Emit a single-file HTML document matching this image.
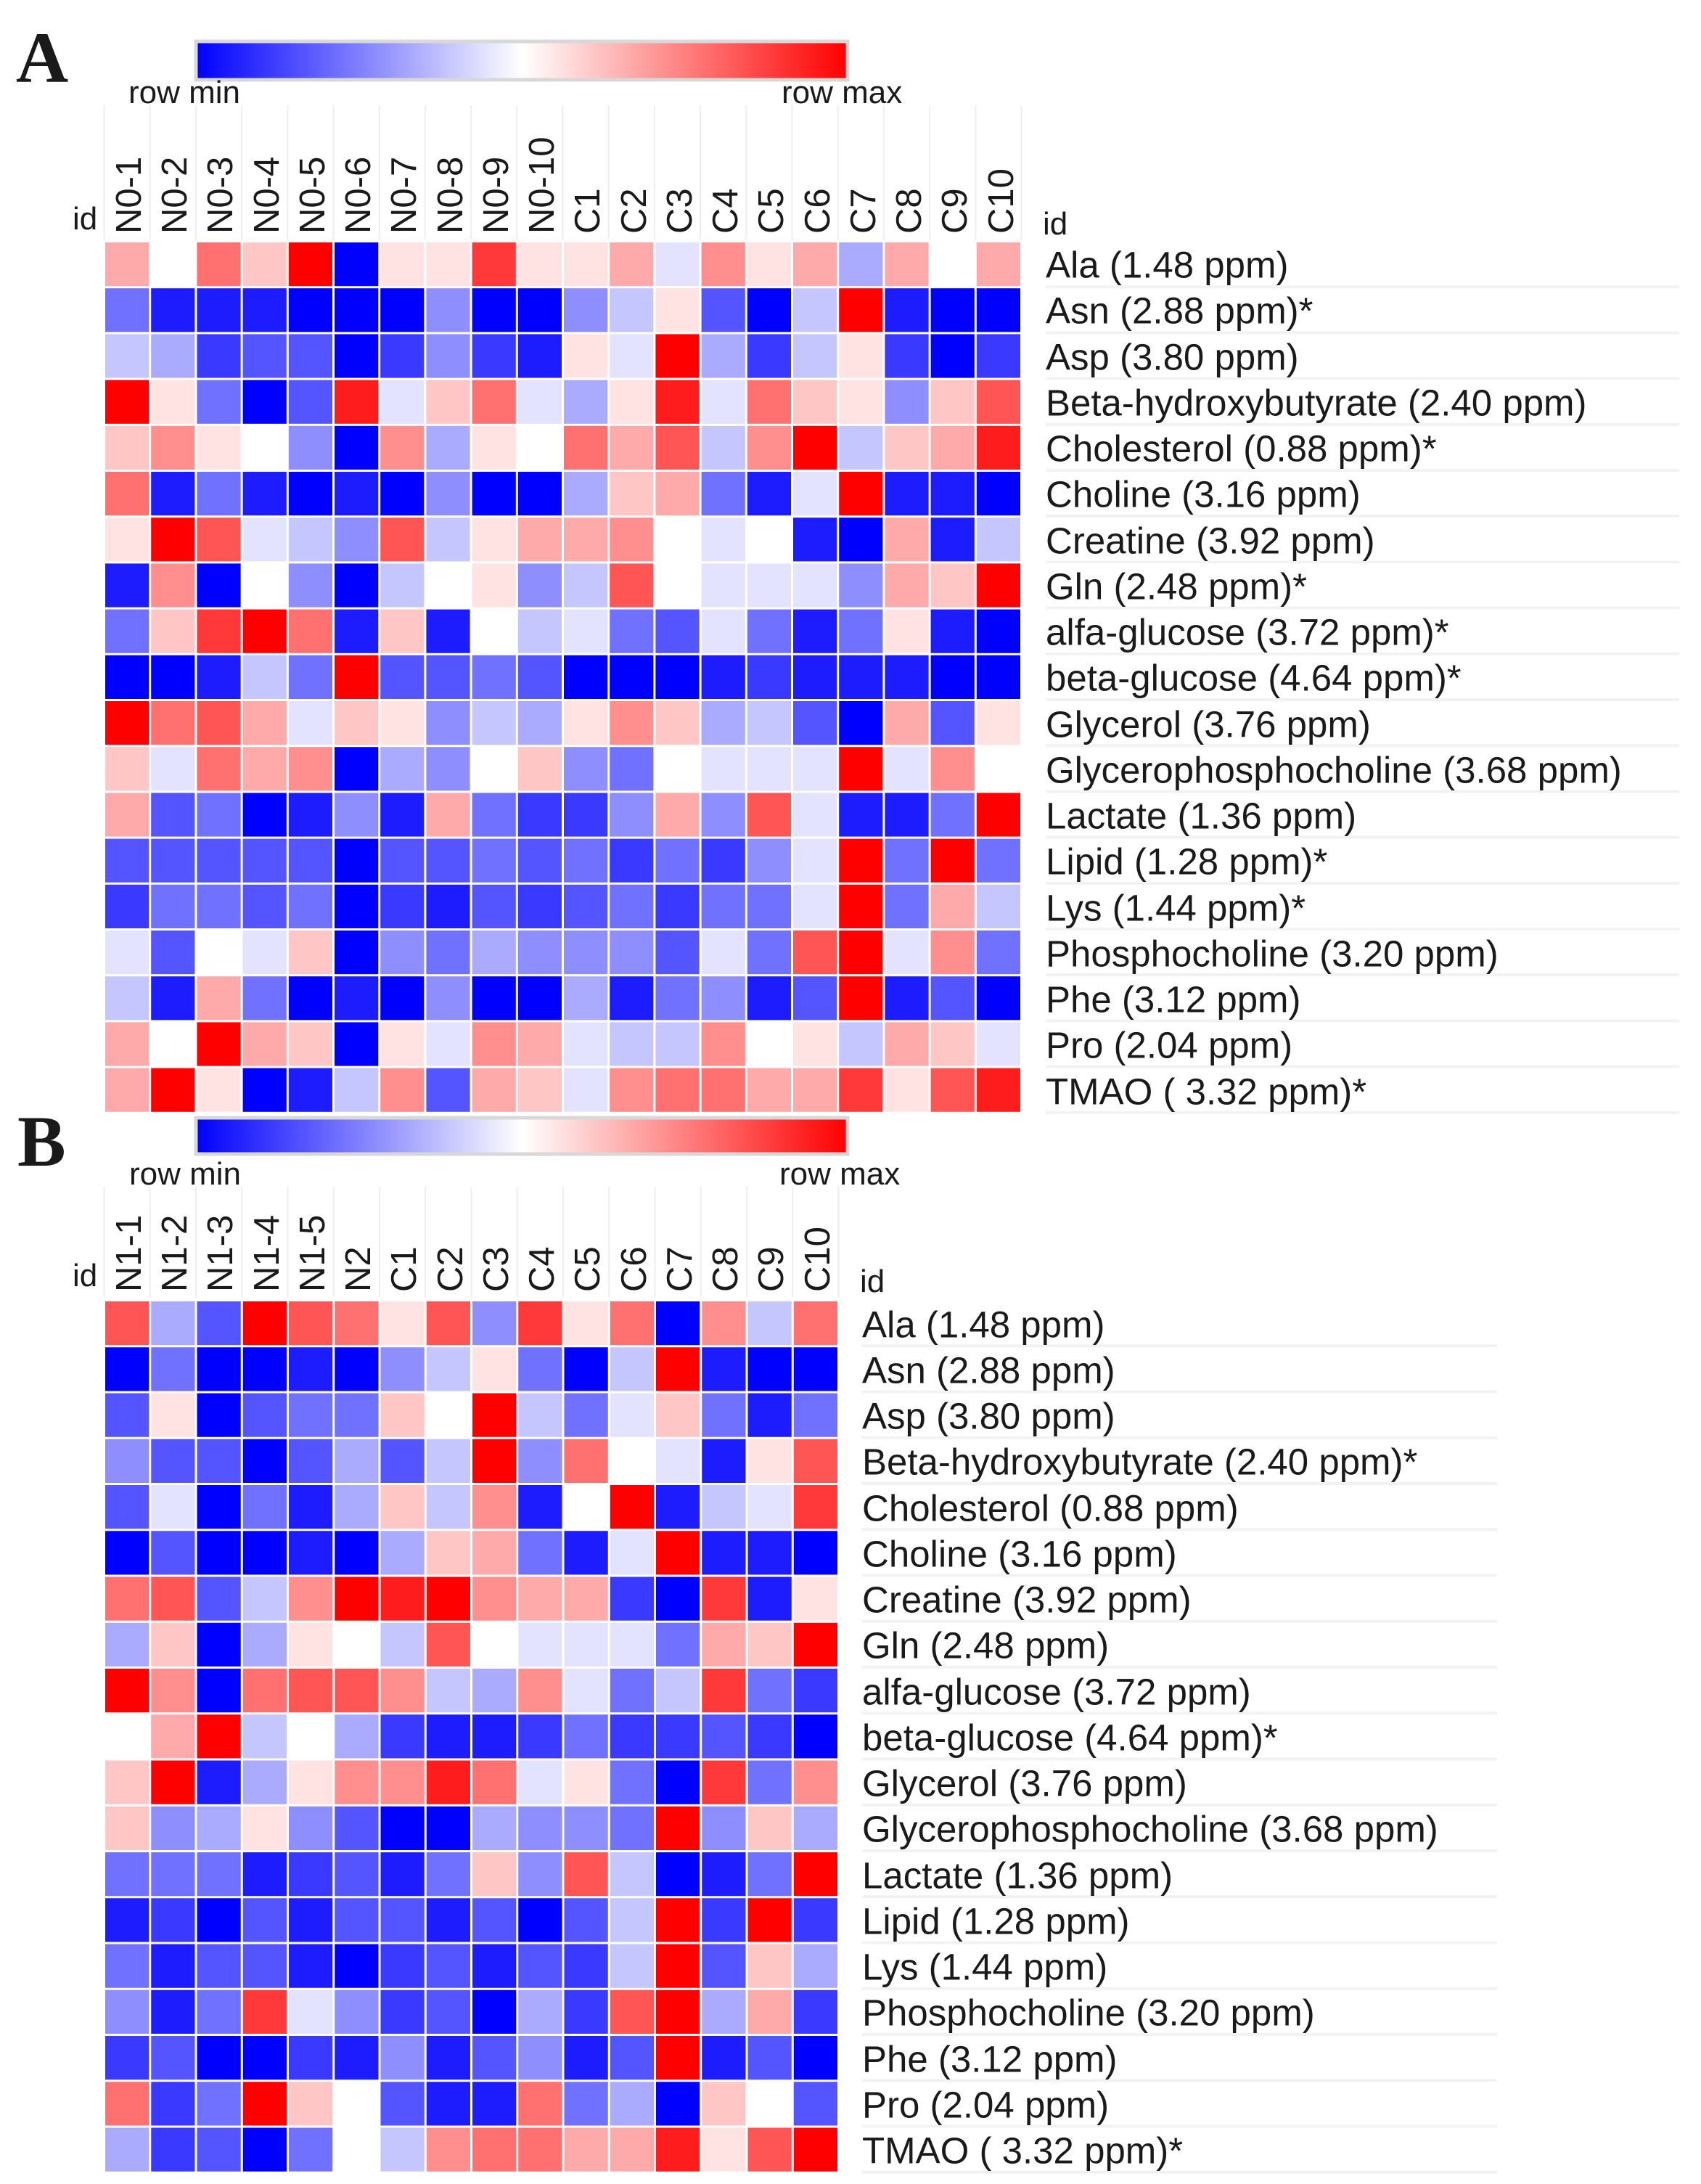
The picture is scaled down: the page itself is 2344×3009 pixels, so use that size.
<!DOCTYPE html>
<html><head><meta charset="utf-8">
<style>
html,body{margin:0;padding:0;background:#fff;}
svg{display:block;}
text{font-family:"Liberation Sans",sans-serif;fill:#1a1a1a;}
</style></head>
<body>
<svg id="s" width="2344" height="3009" viewBox="0 0 2344 3009" xmlns="http://www.w3.org/2000/svg">
<defs>
<linearGradient id="g" x1="0" x2="1" y1="0" y2="0">
<stop offset="0" stop-color="#0000ff"/><stop offset="0.5" stop-color="#ffffff"/><stop offset="1" stop-color="#ff0000"/>
</linearGradient>
</defs>
<rect width="2344" height="3009" fill="#fff"/>
<!-- Panel A header -->
<text x="22" y="113" style="font-family:'Liberation Serif',serif;font-weight:bold;font-size:100px">A</text>
<rect x="270" y="57" width="898" height="53" fill="url(#g)" stroke="#d8d8d8" stroke-width="5"/>
<text x="177" y="142" font-size="44">row min</text>
<text x="1077" y="142" font-size="44">row max</text>
<g id="vlA" stroke="#eeeeee" stroke-width="2"></g>
<text x="100" y="316" font-size="44">id</text>
<text x="1437" y="323" font-size="44">id</text>
<g font-size="49">
<text transform="translate(194,322) rotate(-90)">N0-1</text>
<text transform="translate(257,322) rotate(-90)">N0-2</text>
<text transform="translate(320,322) rotate(-90)">N0-3</text>
<text transform="translate(384,322) rotate(-90)">N0-4</text>
<text transform="translate(447,322) rotate(-90)">N0-5</text>
<text transform="translate(510,322) rotate(-90)">N0-6</text>
<text transform="translate(573,322) rotate(-90)">N0-7</text>
<text transform="translate(637,322) rotate(-90)">N0-8</text>
<text transform="translate(700,322) rotate(-90)">N0-9</text>
<text transform="translate(763,322) rotate(-90)">N0-10</text>
<text transform="translate(826,322) rotate(-90)">C1</text>
<text transform="translate(890,322) rotate(-90)">C2</text>
<text transform="translate(953,322) rotate(-90)">C3</text>
<text transform="translate(1016,322) rotate(-90)">C4</text>
<text transform="translate(1079,322) rotate(-90)">C5</text>
<text transform="translate(1143,322) rotate(-90)">C6</text>
<text transform="translate(1206,322) rotate(-90)">C7</text>
<text transform="translate(1269,322) rotate(-90)">C8</text>
<text transform="translate(1332,322) rotate(-90)">C9</text>
<text transform="translate(1396,322) rotate(-90)">C10</text>
</g>
<g id="gridA"></g>
<g id="sepA" fill="#f2f2f2"></g>
<g font-size="51" dominant-baseline="central">
<text x="1441" y="365">Ala (1.48 ppm)</text>
<text x="1441" y="428">Asn (2.88 ppm)*</text>
<text x="1441" y="492">Asp (3.80 ppm)</text>
<text x="1441" y="555">Beta-hydroxybutyrate (2.40 ppm)</text>
<text x="1441" y="618">Cholesterol (0.88 ppm)*</text>
<text x="1441" y="681">Choline (3.16 ppm)</text>
<text x="1441" y="745">Creatine (3.92 ppm)</text>
<text x="1441" y="808">Gln  (2.48 ppm)*</text>
<text x="1441" y="871">alfa-glucose (3.72 ppm)*</text>
<text x="1441" y="934">beta-glucose (4.64 ppm)*</text>
<text x="1441" y="998">Glycerol (3.76 ppm)</text>
<text x="1441" y="1061">Glycerophosphocholine (3.68 ppm)</text>
<text x="1441" y="1124">Lactate  (1.36 ppm)</text>
<text x="1441" y="1187">Lipid  (1.28 ppm)*</text>
<text x="1441" y="1251">Lys  (1.44 ppm)*</text>
<text x="1441" y="1314">Phosphocholine (3.20 ppm)</text>
<text x="1441" y="1377">Phe (3.12 ppm)</text>
<text x="1441" y="1440">Pro (2.04 ppm)</text>
<text x="1441" y="1504">TMAO ( 3.32 ppm)*</text>
</g>
<!-- Panel B header -->
<text x="24" y="1606" style="font-family:'Liberation Serif',serif;font-weight:bold;font-size:100px">B</text>
<rect x="270" y="1540" width="898" height="50" fill="url(#g)" stroke="#d8d8d8" stroke-width="5"/>
<text x="178" y="1632" font-size="44">row min</text>
<text x="1074" y="1632" font-size="44">row max</text>
<g id="vlB" stroke="#eeeeee" stroke-width="2"></g>
<text x="100" y="1772" font-size="44">id</text>
<text x="1185" y="1780" font-size="44">id</text>
<g font-size="49">
<text transform="translate(194,1780) rotate(-90)">N1-1</text>
<text transform="translate(257,1780) rotate(-90)">N1-2</text>
<text transform="translate(320,1780) rotate(-90)">N1-3</text>
<text transform="translate(384,1780) rotate(-90)">N1-4</text>
<text transform="translate(447,1780) rotate(-90)">N1-5</text>
<text transform="translate(510,1780) rotate(-90)">N2</text>
<text transform="translate(573,1780) rotate(-90)">C1</text>
<text transform="translate(637,1780) rotate(-90)">C2</text>
<text transform="translate(700,1780) rotate(-90)">C3</text>
<text transform="translate(763,1780) rotate(-90)">C4</text>
<text transform="translate(826,1780) rotate(-90)">C5</text>
<text transform="translate(890,1780) rotate(-90)">C6</text>
<text transform="translate(953,1780) rotate(-90)">C7</text>
<text transform="translate(1016,1780) rotate(-90)">C8</text>
<text transform="translate(1079,1780) rotate(-90)">C9</text>
<text transform="translate(1143,1780) rotate(-90)">C10</text>
</g>
<g id="gridB"></g>
<g id="sepB" fill="#f2f2f2"></g>
<g font-size="51" dominant-baseline="central">
<text x="1188" y="1825">Ala (1.48 ppm)</text>
<text x="1188" y="1888">Asn (2.88 ppm)</text>
<text x="1188" y="1951">Asp (3.80 ppm)</text>
<text x="1188" y="2014">Beta-hydroxybutyrate (2.40 ppm)*</text>
<text x="1188" y="2078">Cholesterol (0.88 ppm)</text>
<text x="1188" y="2141">Choline (3.16 ppm)</text>
<text x="1188" y="2204">Creatine (3.92 ppm)</text>
<text x="1188" y="2267">Gln  (2.48 ppm)</text>
<text x="1188" y="2331">alfa-glucose (3.72 ppm)</text>
<text x="1188" y="2394">beta-glucose (4.64 ppm)*</text>
<text x="1188" y="2457">Glycerol (3.76 ppm)</text>
<text x="1188" y="2520">Glycerophosphocholine (3.68 ppm)</text>
<text x="1188" y="2584">Lactate  (1.36 ppm)</text>
<text x="1188" y="2647">Lipid  (1.28 ppm)</text>
<text x="1188" y="2710">Lys (1.44 ppm)</text>
<text x="1188" y="2773">Phosphocholine (3.20 ppm)</text>
<text x="1188" y="2837">Phe (3.12 ppm)</text>
<text x="1188" y="2900">Pro (2.04 ppm)</text>
<text x="1188" y="2963">TMAO ( 3.32 ppm)*</text>
</g>
</svg>
<script>
var A=[
[3,0,5,2,9,-9,1,1,7,1,1,3,-1,4,1,3,-3,3,0,3],
[-5,-8,-8,-8,-9,-9,-9,-4,-9,-9,-4,-2,1,-6,-9,-2,9,-8,-9,-9],
[-2,-3,-7,-6,-6,-9,-7,-4,-7,-8,1,-1,9,-3,-7,-2,1,-7,-9,-7],
[9,1,-5,-9,-6,8,-1,2,5,-1,-3,1,8,-1,5,2,1,-4,2,6],
[2,4,1,0,-4,-9,4,-3,1,0,5,3,6,-2,4,9,-2,2,3,8],
[5,-8,-5,-8,-9,-8,-9,-4,-9,-9,-3,2,3,-5,-8,-1,9,-8,-8,-9],
[1,9,6,-1,-2,-4,6,-2,1,3,3,4,0,-1,0,-8,-9,3,-8,-2],
[-8,4,-9,0,-4,-9,-2,0,1,-4,-2,6,0,-1,-1,-1,-4,3,2,9],
[-5,2,7,9,5,-8,2,-8,0,-2,-1,-5,-6,-1,-5,-8,-5,1,-8,-9],
[-9,-9,-8,-2,-5,9,-6,-6,-5,-6,-9,-9,-9,-8,-7,-8,-8,-8,-9,-9],
[9,5,6,3,-1,2,1,-4,-2,-3,1,4,2,-3,-2,-6,-9,3,-6,1],
[2,-1,5,3,4,-9,-3,-4,0,2,-4,-5,0,-1,-1,-1,9,-1,4,0],
[3,-6,-5,-9,-8,-4,-8,3,-5,-7,-7,-4,3,-4,6,-1,-8,-8,-5,9],
[-6,-6,-6,-6,-6,-9,-6,-6,-5,-6,-5,-7,-5,-7,-4,-1,9,-5,9,-5],
[-7,-5,-5,-6,-5,-9,-7,-8,-6,-7,-6,-5,-7,-5,-5,-1,9,-5,3,-2],
[-1,-6,0,-1,2,-9,-4,-5,-3,-4,-4,-4,-6,-1,-5,6,9,-1,4,-5],
[-2,-8,3,-5,-9,-8,-9,-4,-9,-9,-3,-8,-5,-4,-8,-6,9,-8,-6,-9],
[3,0,9,3,2,-9,1,-1,4,3,-1,-2,-2,4,0,1,-2,3,2,-1],
[3,9,1,-9,-8,-2,4,-6,3,2,-1,4,5,5,3,3,7,1,6,8]];
var B=[
[6,-3,-6,9,6,5,1,6,-4,7,1,5,-9,4,-2,5],
[-9,-5,-9,-9,-8,-9,-4,-2,1,-5,-9,-2,9,-8,-9,-9],
[-6,1,-9,-6,-5,-5,2,0,9,-2,-5,-1,2,-5,-8,-5],
[-4,-6,-6,-9,-6,-3,-6,-2,9,-4,5,0,-1,-8,1,6],
[-6,-1,-9,-5,-8,-3,2,-2,4,-8,0,9,-8,-2,-1,7],
[-9,-6,-9,-9,-8,-9,-3,2,3,-5,-8,-1,9,-8,-8,-9],
[5,6,-6,-2,4,9,8,9,4,3,3,-7,-9,7,-8,1],
[-3,2,-9,-3,1,0,-2,6,0,-1,-1,-1,-5,3,2,9],
[9,4,-9,5,6,6,4,-2,-3,4,-1,-5,-2,7,-5,-7],
[0,3,9,-2,0,-3,-7,-8,-8,-7,-5,-7,-7,-6,-7,-9],
[2,9,-8,-3,1,4,4,8,5,-1,1,-5,-9,7,-5,4],
[2,-4,-3,1,-4,-6,-9,-9,-3,-4,-4,-5,9,-4,2,-3],
[-5,-5,-5,-8,-7,-6,-8,-5,2,-4,6,-2,-9,-8,-5,9],
[-8,-7,-9,-6,-8,-6,-6,-8,-6,-9,-6,-2,9,-7,9,-7],
[-5,-8,-6,-6,-8,-9,-7,-6,-8,-6,-7,-2,9,-6,2,-3],
[-4,-8,-5,7,-1,-4,-7,-6,-9,-3,-7,6,9,-3,3,-7],
[-7,-6,-9,-9,-7,-8,-4,-8,-6,-4,-8,-6,9,-8,-6,-9],
[5,-7,-5,9,2,0,-6,-8,-8,5,-5,-3,-9,2,0,-6],
[-3,-7,-6,-9,-5,0,-2,4,5,5,3,3,8,1,6,9]];
var NS="http://www.w3.org/2000/svg";
function col(v){var t=Math.abs(v)/9;var c=Math.round(255*(1-t));
 return v<0?"rgb("+c+","+c+",255)":"rgb(255,"+c+","+c+")";}
function grid(id,M,x0,y0,p,sepId,lx,lx2,vlId,vy0,vy1){
 var g=document.getElementById(id);
 for(var i=0;i<M.length;i++)for(var j=0;j<M[i].length;j++){
  var r=document.createElementNS(NS,"rect");
  r.setAttribute("x",x0+j*p);r.setAttribute("y",y0+i*p);
  r.setAttribute("width",p-3);r.setAttribute("height",p-3);
  r.setAttribute("fill",col(M[i][j]));g.appendChild(r);}
 var s=document.getElementById(sepId);
 for(var i=0;i<M.length;i++){var r=document.createElementNS(NS,"rect");
  r.setAttribute("x",lx);r.setAttribute("y",y0+(i+1)*p-4);r.setAttribute("width",lx2-lx);r.setAttribute("height",4);s.appendChild(r);}
 var v=document.getElementById(vlId);
 for(var j=0;j<=M[0].length;j++){var l=document.createElementNS(NS,"line");
  var x=x0+j*p-1.5;l.setAttribute("x1",x);l.setAttribute("x2",x);l.setAttribute("y1",vy0);l.setAttribute("y2",vy1);v.appendChild(l);}
}
grid("gridA",A,145,334,63.2,"sepA",1441,2314,"vlA",145,330);
grid("gridB",B,145,1793,63.25,"sepB",1188,2063,"vlB",1635,1787);
</script>
</body></html>
